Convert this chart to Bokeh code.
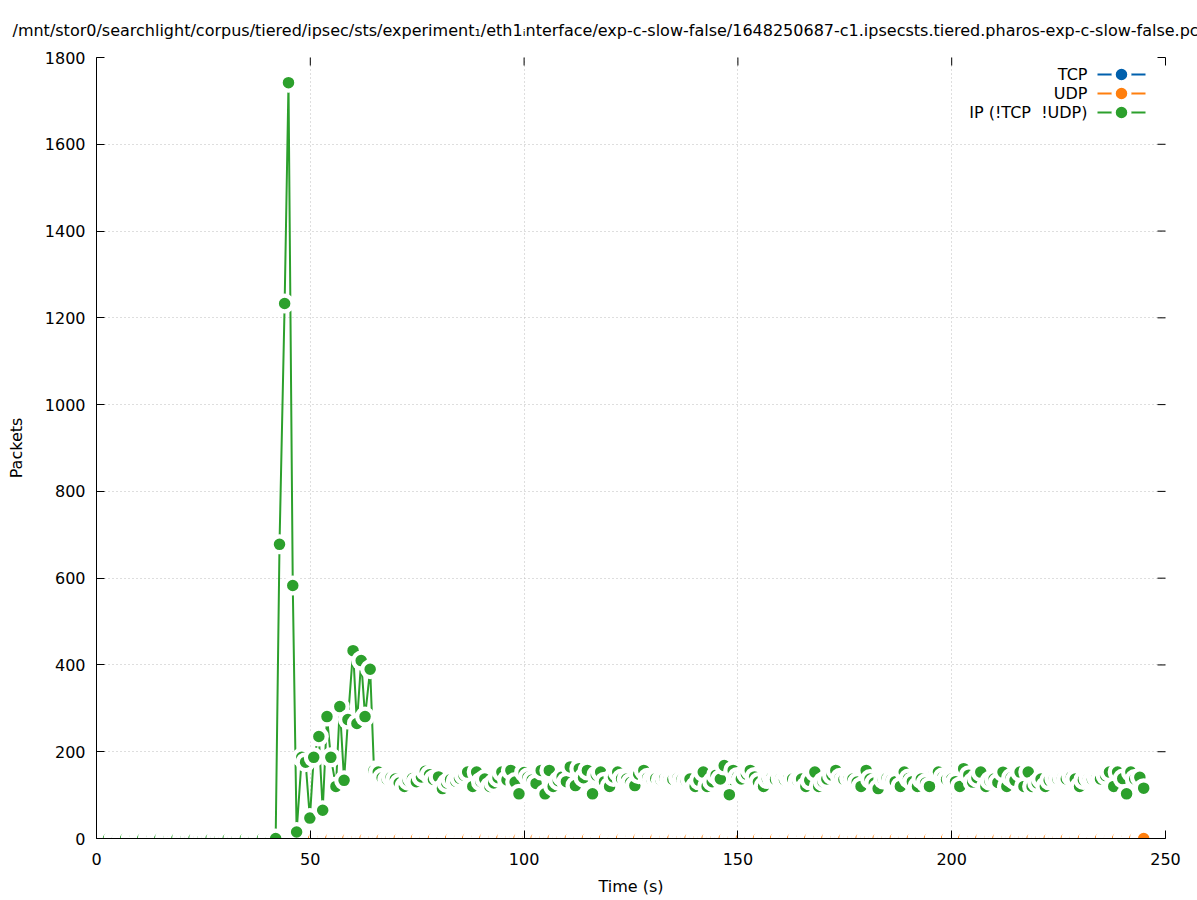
from bokeh.plotting import figure
from bokeh.models import Range1d, FixedTicker, Label
from bokeh.embed import file_html
from bokeh.resources import INLINE

# ---------------- data ----------------
TITLE = ("/mnt/stor0/searchlight/corpus/tiered/ipsec/sts/experiment\u2081/eth1\u1d62nterface/"
         "exp-c-slow-false/1648250687-c1.ipsecsts.tiered.pharos-exp-c-slow-false.pc")

series_names = ["TCP", "UDP", "IP (!TCP\u00a0 !UDP)"]
series_colors = ["#0060ad", "#ff7f0e", "#2ca02c"]

x_ticks = [0, 50, 100, 150, 200, 250]
y_ticks = [0, 200, 400, 600, 800, 1000, 1200, 1400, 1600, 1800]

time_s = [
    0.0, 0.9, 1.9, 2.8,
    4.0, 4.9, 5.9, 6.8,
    8.0, 8.9, 9.9, 10.8,
    12.0, 12.9, 13.9, 14.8,
    16.0, 16.9, 17.9, 18.8,
    20.0, 20.9, 21.9, 22.8,
    24.0, 24.9, 25.9, 26.8,
    28.0, 28.9, 29.9, 30.8,
    32.0, 32.9, 33.9, 34.8,
    36.0, 36.9, 37.9, 38.8,
    40.0, 40.9, 41.9, 42.8,
    44.0, 44.9, 45.9, 46.8,
    48.0, 48.9, 49.9, 50.8,
    52.0, 52.9, 53.9, 54.8,
    56.0, 56.9, 57.9, 58.8,
    60.0, 60.9, 61.9, 62.8,
    64.0, 64.9, 65.9, 66.8,
    68.0, 68.9, 69.9, 70.8,
    72.0, 72.9, 73.9, 74.8,
    76.0, 76.9, 77.9, 78.8,
    80.0, 80.9, 81.9, 82.8,
    84.0, 84.9, 85.9, 86.8,
    88.0, 88.9, 89.9, 90.8,
    92.0, 92.9, 93.9, 94.8,
    96.0, 96.9, 97.9, 98.8,
    100.0, 100.9, 101.9, 102.8,
    104.0, 104.9, 105.9, 106.8,
    108.0, 108.9, 109.9, 110.8,
    112.0, 112.9, 113.9, 114.8,
    116.0, 116.9, 117.9, 118.8,
    120.0, 120.9, 121.9, 122.8,
    124.0, 124.9, 125.9, 126.8,
    128.0, 128.9, 129.9, 130.8,
    132.0, 132.9, 133.9, 134.8,
    136.0, 136.9, 137.9, 138.8,
    140.0, 140.9, 141.9, 142.8,
    144.0, 144.9, 145.9, 146.8,
    148.0, 148.9, 149.9, 150.8,
    152.0, 152.9, 153.9, 154.8,
    156.0, 156.9, 157.9, 158.8,
    160.0, 160.9, 161.9, 162.8,
    164.0, 164.9, 165.9, 166.8,
    168.0, 168.9, 169.9, 170.8,
    172.0, 172.9, 173.9, 174.8,
    176.0, 176.9, 177.9, 178.8,
    180.0, 180.9, 181.9, 182.8,
    184.0, 184.9, 185.9, 186.8,
    188.0, 188.9, 189.9, 190.8,
    192.0, 192.9, 193.9, 194.8,
    196.0, 196.9, 197.9, 198.8,
    200.0, 200.9, 201.9, 202.8,
    204.0, 204.9, 205.9, 206.8,
    208.0, 208.9, 209.9, 210.8,
    212.0, 212.9, 213.9, 214.8,
    216.0, 216.9, 217.9, 218.8,
    220.0, 220.9, 221.9, 222.8,
    224.0, 224.9, 225.9, 226.8,
    228.0, 228.9, 229.9, 230.8,
    232.0, 232.9, 233.9, 234.8,
    236.0, 236.9, 237.9, 238.8,
    240.0, 240.9, 241.9, 242.8,
    244.0, 244.9,
]

ip_pkts = [
    0, 0, 0, 0,
    0, 0, 0, 0,
    0, 0, 0, 0,
    0, 0, 0, 0,
    0, 0, 0, 0,
    0, 0, 0, 0,
    0, 0, 0, 0,
    0, 0, 0, 0,
    0, 0, 0, 0,
    0, 0, 0, 0,
    0, 0, 0, 678,
    1233, 1742, 583, 15,
    187, 176, 47, 187,
    235, 65, 281, 187,
    120, 304, 134, 274,
    433, 265, 410, 281,
    390, 157, 153, 140,
    136, 141, 137, 128,
    120, 133, 138, 131,
    142, 155, 147, 136,
    142, 115, 128, 136,
    132, 139, 146, 153,
    120, 153, 131, 137,
    120, 128, 140, 153,
    135, 157, 130, 103,
    152, 141, 135, 127,
    157, 103, 157, 120,
    133, 142, 131, 165,
    122, 161, 140, 157,
    103, 146, 153, 131,
    120, 142, 153, 138,
    137, 129, 122, 148,
    157, 140, 136, 138,
    135, 139, 137, 136,
    140, 136, 133, 137,
    120, 134, 153, 120,
    131, 146, 137, 168,
    101, 157, 142, 137,
    148, 157, 142, 130,
    120, 137, 140, 136,
    138, 135, 139, 137,
    133, 137, 120, 134,
    153, 120, 131, 137,
    146, 157, 140, 136,
    138, 137, 130, 120,
    157, 137, 128, 115,
    136, 139, 135, 131,
    120, 153, 138, 131,
    120, 137, 128, 120,
    153, 153, 141, 136,
    137, 131, 120, 161,
    146, 130, 140, 153,
    120, 133, 137, 129,
    153, 120, 140, 134,
    153, 120, 153, 120,
    128, 137, 120, 134,
    138, 136, 139, 137,
    142, 137, 120, 135,
    138, 136, 139, 137,
    145, 153, 120, 153,
    138, 103, 153, 137,
    141, 116,
]

tcp_pkts = [0] * len(time_s)   # TCP count is zero throughout
udp_pkts = [0] * len(time_s)   # UDP count is zero throughout

assert len(time_s) == len(ip_pkts)

# ---------------- layout / style ----------------
X0, X1 = 0, 250
Y0, Y1 = 0, 1800
FW, FH = 1069, 781
FONT = "DejaVu Sans"
FS = "16px"
DOT_SIZE = 15.75
RING_W = 4.25
LINE_W = 2
TICK = 8

p = figure(frame_width=FW, frame_height=FH,
           x_range=Range1d(X0, X1), y_range=Range1d(Y0, Y1),
           output_backend="svg", toolbar_location=None,
           min_border_left=96, min_border_right=32,
           min_border_top=57, min_border_bottom=62,
           background_fill_color="white", border_fill_color="white",
           outline_line_color=None, title=TITLE)

p.title.text_font = FONT
p.title.text_font_size = FS
p.title.text_font_style = "normal"
p.title.text_color = "black"
p.title.align = "left"
p.title.offset = -84
p.title.standoff = 36

xt = FixedTicker(ticks=x_ticks, minor_ticks=[])
yt = FixedTicker(ticks=y_ticks, minor_ticks=[])

for ax in p.xaxis:
    ax.ticker = xt
    ax.axis_label = "Time (s)"
    ax.major_label_standoff = 14
    ax.axis_label_standoff = 9
for ax in p.yaxis:
    ax.ticker = yt
    ax.axis_label = "Packets"
    ax.major_label_standoff = 11
    ax.axis_label_standoff = 16

for ax in list(p.xaxis) + list(p.yaxis):
    ax.axis_line_color = "black"
    ax.axis_line_width = 1
    ax.major_tick_line_color = "black"
    ax.major_tick_in = TICK
    ax.major_tick_out = 0
    ax.minor_tick_in = 0
    ax.minor_tick_out = 0
    ax.major_label_text_font = FONT
    ax.major_label_text_font_size = FS
    ax.major_label_text_color = "black"
    ax.axis_label_text_font = FONT
    ax.axis_label_text_font_size = FS
    ax.axis_label_text_font_style = "normal"
    ax.axis_label_text_color = "black"

p.xgrid.ticker = xt
p.ygrid.ticker = yt
for g in (p.xgrid, p.ygrid):
    g.grid_line_color = "#bdbdbd"
    g.grid_line_dash = "1 3"
    g.grid_line_width = 1

def fx(px):  # pixel offset from frame left -> data x
    return X0 + px / FW * (X1 - X0)

def fy(py):  # pixel offset from frame top -> data y
    return Y1 - py / FH * (Y1 - Y0)

# ---------------- series ----------------
for vals, col in zip([tcp_pkts, udp_pkts, ip_pkts], series_colors):
    p.line(time_s, vals, line_color=col, line_width=LINE_W)
    p.scatter(time_s, vals, marker="circle", size=DOT_SIZE,
              fill_color=col, line_color="white", line_width=RING_W)

# mirrored tick marks on the top and right edges (no border line there)
p.segment(x0=x_ticks, y0=[Y1] * len(x_ticks), x1=x_ticks, y1=[fy(TICK)] * len(x_ticks),
          line_color="black", line_width=1, level="overlay")
p.segment(x0=[X1] * len(y_ticks), y0=y_ticks, x1=[fx(FW - TICK)] * len(y_ticks), y1=y_ticks,
          line_color="black", line_width=1, level="overlay")

# ---------------- legend (top right, gnuplot style) ----------------
rows_py = [17, 36, 55]
for name, col, py in zip(series_names, series_colors, rows_py):
    p.add_layout(Label(x=fx(991), y=fy(py), text=name, text_align="right",
                       text_baseline="middle", text_font=FONT, text_font_size=FS,
                       text_color="black"))
    p.segment(x0=[fx(1001)], y0=[fy(py)], x1=[fx(1049)], y1=[fy(py)],
              line_color=col, line_width=LINE_W)
    p.scatter([fx(1025)], [fy(py)], marker="circle", size=DOT_SIZE,
              fill_color=col, line_color="white", line_width=RING_W)

open("out.html", "w").write(file_html(p, INLINE))
